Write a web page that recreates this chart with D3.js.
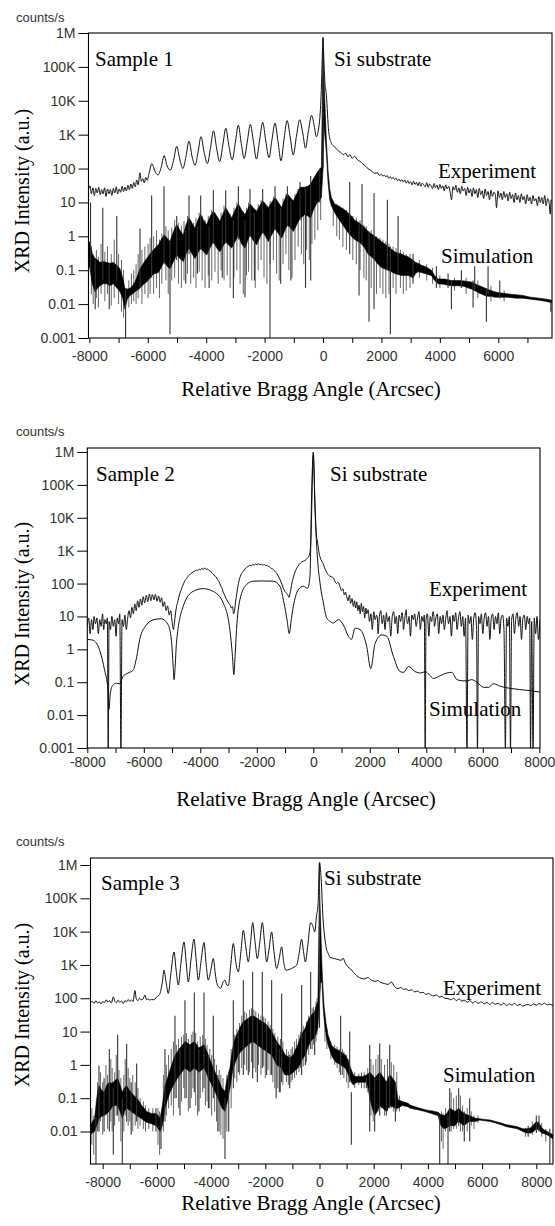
<!DOCTYPE html>
<html><head><meta charset="utf-8">
<script src="https://cdn.jsdelivr.net/npm/d3@7"></script>
<style>body{margin:0;background:#fff}</style></head>
<body><svg id="c" width="555" height="1226"></svg>
<script>
// ---------- DATA ----------
const yTickVals = [1e6,1e5,1e4,1e3,100,10,1,0.1,0.01,0.001];
const yTickLabels = ["1M","100K","10K","1K","100","10","1","0.1","0.01","0.001"];
const xTickVals = [-8000,-7000,-6000,-5000,-4000,-3000,-2000,-1000,0,1000,2000,3000,4000,5000,6000,7000,8000];

// Sample 1 experiment [angle, counts/s]
const exp1 = [[-8030,24],[-7980,31],[-7930,18],[-7880,27],[-7830,16],[-7780,26],[-7730,19],[-7680,28],[-7630,17],[-7580,24],[-7530,18],[-7480,27],[-7430,15],[-7380,25],[-7330,18],[-7280,24],[-7230,16],[-7180,26],[-7130,19],[-7080,29],[-7030,18],[-6980,25],[-6930,20],[-6880,30],[-6830,21],[-6780,28],[-6730,22],[-6680,32],[-6630,24],[-6580,35],[-6530,26],[-6480,39],[-6430,29],[-6380,46],[-6330,33],[-6270,75],[-6220,42],[-6170,50],[-6120,38],[-6070,55],[-6020,45],[-5960,70],
[-5860,140],[-5760,85],[-5650,65],[-5540,110],[-5440,240],[-5340,120],[-5230,90],[-5120,170],[-5010,450],[-4900,180],[-4800,100],[-4690,230],[-4590,650],[-4480,220],[-4380,125],[-4280,300],[-4180,870],[-4070,300],[-3960,140],[-3850,420],[-3750,1300],[-3640,380],[-3540,160],[-3430,500],[-3330,1550],[-3220,450],[-3110,180],[-3000,600],[-2900,1900],[-2800,550],[-2700,200],[-2590,650],[-2490,2000],[-2380,600],[-2280,190],[-2170,700],[-2065,2300],[-1960,650],[-1850,210],[-1750,700],[-1645,2200],[-1540,620],[-1440,170],[-1330,800],[-1230,2600],[-1120,800],[-1020,250],[-910,900],[-800,2750],[-700,1200],[-600,400],[-500,1300],[-390,3700],[-300,1800],[-228,870],[-120,2500],[-60,20000],[-25,200000],[0,740000],[25,200000],[60,40000],[114,15000],[194,1230],[286,560],
[380,450],[460,380],[514,340],[600,300],[700,260],[780,280],[856,220],[913,260],[1000,200],[1080,230],[1199,175],[1280,160],[1350,140],[1420,125],[1541,100],[1620,90],[1700,80],[1780,72],[1860,75],[1930,63],
[2000,68],[2050,60],[2100,64],[2150,57],[2200,62],[2250,52],[2300,58],[2350,50],[2400,55],[2450,47],[2500,52],[2550,44],[2600,49],[2650,42],[2700,47],[2750,40],[2800,46],[2850,37],[2900,44],[2950,36],[3000,41],[3050,33],[3100,42],[3150,34],[3200,39],[3250,31],[3300,40],[3350,30],[3400,37],[3450,33],[3500,29],[3550,38],[3600,28],[3650,35],[3700,31],[3750,26],[3800,36],[3850,27],[3900,33],[3950,24],[4000,34],[4050,26],[4100,31],[4150,22],[4200,33],[4250,25],[4300,30],[4350,21],[4400,12],[4450,29],[4500,23],[4550,32],[4600,20],[4650,27],[4700,18],[4750,30],[4800,22],[4850,26],[4900,16],[4950,28],[5000,19],[5050,25],[5100,15],[5150,27],[5200,18],[5250,24],[5300,14],[5350,26],[5400,17],[5450,22],[5500,13],[5550,25],[5600,16],[5650,21],[5700,12],[5750,23],[5800,15],[5850,20],[5900,17],[5940,7],[5990,22],[6040,14],[6090,19],[6140,12],[6190,21],[6240,14],[6290,18],[6340,11],[6390,20],[6440,13],[6490,17],[6540,10],[6590,19],[6640,12],[6690,16],[6740,10],[6790,18],[6840,12],[6890,15],[6940,9],[6990,17],[7040,11],[7090,14],[7140,9],[7190,16],[7240,11],[7290,13],[7340,8],[7390,15],[7440,10],[7490,14],[7540,9],[7590,16],[7640,8],[7690,13],[7740,10],[7780,4.5],[7810,12],[7840,11]];

// Sample 1 simulation: band [angle, low, high], main fringes and fine fringes [angle, top, bottom]
const sim1Band = [[-8030,0.15,0.6],[-7980,0.11,0.7],[-7900,0.04,0.3],[-7808,0.023,0.22],[-7720,0.03,0.2],[-7637,0.035,0.17],[-7520,0.04,0.18],[-7409,0.04,0.17],[-7300,0.035,0.16],[-7180,0.04,0.17],[-7060,0.03,0.14],[-6952,0.023,0.11],[-6860,0.015,0.06],[-6781,0.007,0.029],[-6700,0.014,0.028],[-6610,0.018,0.029],[-6520,0.02,0.035],[-6438,0.023,0.045],[-6350,0.026,0.07],[-6267,0.03,0.11],[-6150,0.038,0.16],[-6039,0.045,0.22],[-5950,0.055,0.28],[-5868,0.07,0.35],[-5750,0.08,0.45],[-5639,0.085,0.56],[-5540,0.12,0.8],[-5445,0.18,1.1],[-5340,0.13,0.9],[-5240,0.11,0.7],[-5120,0.18,1.4],[-5010,0.28,2.2],[-4900,0.22,1.5],[-4783,0.18,1.1],[-4690,0.3,2.2],[-4589,0.45,3.5],[-4480,0.3,2.4],[-4384,0.22,1.7],[-4290,0.32,3],[-4189,0.45,4.4],[-4090,0.35,3],[-3984,0.28,2.2],[-3870,0.45,3.8],[-3756,0.7,5.5],[-3640,0.45,4],[-3528,0.35,2.8],[-3430,0.5,4.5],[-3333,0.7,7],[-3230,0.55,5],[-3128,0.45,3.5],[-3010,0.7,6],[-2899,1.1,9],[-2790,0.6,6],[-2671,0.45,4.4],[-2590,0.7,6],[-2500,1.1,9],[-2390,0.75,7],[-2272,0.56,5.5],[-2170,0.9,8],[-2066,1.4,11],[-1970,1,9],[-1872,0.7,7],[-1760,1.1,10],[-1644,1.7,14],[-1530,1.2,10],[-1416,0.9,7],[-1320,1.4,12],[-1221,2.2,18],[-1120,1.8,14],[-1016,1.4,11],[-900,2.2,18],[-788,3.5,28],[-700,3.8,28],[-628,4.4,28],[-520,4,30],[-422,3.5,35],[-330,6,50],[-228,9,70],[-140,11,90],[-57,14,110],[0,100,300000],[30,2000,50000],[114,300,700],[171,40,90],[229,12,25],[286,8,14],[400,5,9],[514,3.5,8],[628,2.5,7],[742,1.8,6],[856,1.3,5],[970,1,4],[1085,0.8,3],[1199,0.7,2.6],[1313,0.6,2.2],[1427,0.45,1.8],[1541,0.3,1.4],[1655,0.25,1.2],[1770,0.2,1],[1884,0.15,0.85],[1998,0.12,0.7],[2112,0.11,0.6],[2226,0.1,0.5],[2340,0.09,0.42],[2455,0.08,0.35],[2569,0.075,0.32],[2683,0.07,0.3],[2797,0.07,0.27],[2911,0.07,0.25],[3000,0.065,0.22],[3082,0.06,0.2],[3170,0.08,0.17],[3254,0.09,0.16],[3370,0.085,0.14],[3482,0.08,0.13],[3600,0.075,0.115],[3710,0.07,0.1],[3820,0.05,0.07],[3939,0.04,0.055],[4050,0.039,0.055],[4167,0.038,0.055],[4281,0.036,0.052],[4395,0.035,0.05],[4510,0.035,0.05],[4624,0.035,0.05],[4738,0.034,0.049],[4852,0.033,0.048],[4966,0.03,0.046],[5080,0.028,0.045],[5194,0.025,0.04],[5308,0.022,0.036],[5420,0.02,0.033],[5537,0.018,0.03],[5650,0.017,0.027],[5765,0.017,0.025],[5880,0.016,0.023],[5993,0.016,0.022],[6160,0.016,0.021],[6336,0.016,0.02],[6600,0.015,0.019],[6850,0.015,0.018],[7100,0.014,0.016],[7400,0.013,0.015],[7650,0.012,0.014],[7840,0.011,0.013]];
const sim1Spikes = [[-7960,10,0.1],[-7800,0.2,0.007],[-7541,7,0.05],[-7320,0.15,0.007],[-7062,4,0.05],[-6760,0.03,0.0005],[-6267,1.7,0.03],[-5868,16,0.06],[-5445,30,0.15],[-5240,0.7,0.0013],[-5010,4,0.2],[-4700,1.5,0.04],[-4589,16,0.3],[-4300,2,0.08],[-4189,16,0.4],[-3900,2,0.03],[-3756,23,0.6],[-3450,3,0.06],[-3333,23,0.6],[-3070,3,0.015],[-2899,30,0.8],[-2671,3,0.016],[-2500,25,1],[-2350,5,0.05],[-2066,25,1.2],[-1815,7,0.0005],[-1644,30,1.5],[-1450,7,0.04],[-1221,30,2],[-1100,11,0.05],[-788,40,3],[-600,25,0.03],[-422,60,0.05],[-114,100,10],[0,700000,100],[913,40,0.3],[1233,2.6,0.018],[1336,35,0.6],[1575,1.4,0.003],[1747,19,0.007],[2203,12,0.1],[2306,0.5,0.0013],[2569,4,0.08],[3082,0.3,0.04],[3881,0.13,0.03],[4281,0.08,0.03],[4395,0.05,0.007],[4738,0.1,0.03],[5137,0.05,0.008],[5194,0.13,0.025],[5594,0.03,0.003],[5651,0.13,0.02],[6051,0.05,0.015],[7800,0.013,0.006]];
const sim1Fine = [[-7930,0.5,0.02],[-7870,0.3,0.01],[-7760,0.4,0.015],[-7690,0.25,0.008],[-7600,0.6,0.02],[-7470,0.35,0.012],[-7380,0.5,0.02],[-7250,0.3,0.009],[-7150,0.8,0.015],[-7000,0.3,0.01],[-6900,0.2,0.006],[-6830,0.1,0.004],[-6650,0.05,0.008],[-6560,0.08,0.01],[-6480,0.1,0.012],[-6400,0.15,0.01],[-6330,0.3,0.015],[-6200,0.4,0.01],[-6100,0.5,0.02],[-5990,0.6,0.015],[-5920,0.9,0.02],[-5800,1,0.02],[-5700,1.5,0.03],[-5600,0.8,0.015],[-5520,1.2,0.04],[-5380,2,0.05],[-5300,1.5,0.02],[-5180,1.8,0.05],[-5080,3,0.06],[-4950,2.5,0.04],[-4850,2,0.03],[-4760,2.8,0.05],[-4640,4,0.08],[-4530,3,0.04],[-4430,2.5,0.06],[-4350,3.5,0.03],[-4240,5,0.09],[-4140,4,0.05],[-4040,3,0.03],[-3930,4,0.07],[-3810,6,0.05],[-3700,5,0.09],[-3590,3.5,0.04],[-3490,5,0.1],[-3390,8,0.05],[-3280,6,0.07],[-3180,4.5,0.03],[-3050,7,0.06],[-2950,10,0.1],[-2840,7,0.04],[-2730,5,0.02],[-2620,7,0.07],[-2550,10,0.09],[-2440,8,0.05],[-2320,6,0.03],[-2220,9,0.1],[-2120,12,0.2],[-2020,10,0.06],[-1920,8,0.04],[-1810,11,0.15],[-1700,15,0.2],[-1590,12,0.08],[-1500,9,0.05],[-1370,13,0.15],[-1270,18,0.3],[-1170,15,0.1],[-1060,12,0.06],[-960,18,0.2],[-850,25,0.5],[-740,25,0.3],[-660,28,0.15],[-560,30,0.4],[-470,32,0.2],[-380,40,0.6],[-280,55,0.8],[-180,75,1.5],[-80,100,3],[350,10,2],[470,9,1],[560,8,0.8],[680,7,0.5],[800,6,0.4],[1020,4,0.2],[1140,3.5,0.15],[1270,3,0.1],[1400,2.2,0.06],[1480,2,0.05],[1650,1.5,0.03],[1830,1,0.02],[1950,0.9,0.03],[2050,0.8,0.02],[2150,0.7,0.015],[2260,0.6,0.02],[2400,0.5,0.03],[2500,0.45,0.02],[2650,0.4,0.03],[2750,0.35,0.02],[2850,0.3,0.025],[2980,0.3,0.03],[3300,0.2,0.06],[3550,0.15,0.05],[3750,0.12,0.04],[4000,0.07,0.03],[4500,0.06,0.025],[4900,0.06,0.02],[5300,0.05,0.015],[5750,0.035,0.012],[6200,0.025,0.012]];

// Sample 2
const exp2 = [[-8000,5],[-7950,9],[-7900,3],[-7850,8],[-7800,4],[-7760,10],[-7710,6],[-7660,9],[-7610,3],[-7560,8],[-7510,5],[-7460,12],[-7420,4],[-7380,8],[-7330,6],[-7290,9],[-7260,0.0008],[-7230,7],[-7180,4],[-7130,10],[-7080,5],[-7030,8],[-6980,2.5],[-6940,9],[-6890,6],[-6850,12],[-6810,0.0008],[-6770,8],[-6720,5],[-6670,11],[-6620,4],[-6570,9],[-6520,15],[-6470,9],[-6420,19],[-6370,12],[-6320,24],[-6270,15],[-6220,30],[-6170,19],[-6120,34],[-6070,22],[-6020,40],[-5970,26],[-5910,44],[-5860,28],[-5800,48],[-5750,30],[-5700,46],[-5640,32],[-5590,47],[-5530,29],[-5480,42],[-5420,27],[-5370,37],[-5320,20],[-5270,28],[-5210,15],[-5160,21],[-5100,11],[-5050,15],[-5000,7],[-4950,4],[-4920,6],[-4880,12],[-4840,20],[-4790,30],[-4740,45],[-4690,60],[-4640,80],[-4590,100],[-4540,125],[-4490,140],[-4440,165],[-4390,180],[-4340,200],[-4290,215],[-4240,230],[-4190,240],[-4140,255],[-4090,250],[-4040,275],[-3990,260],[-3940,290],[-3890,270],[-3840,300],[-3790,265],[-3740,280],[-3690,250],[-3640,240],[-3590,210],[-3540,195],[-3490,170],[-3440,160],[-3390,130],[-3340,115],[-3290,90],[-3240,75],[-3190,55],[-3140,45],[-3090,35],[-3040,30],[-2990,25],[-2940,22],[-2900,18],[-2860,20],[-2820,12],[-2790,15],[-2750,28],[-2710,50],[-2670,80],[-2630,120],[-2590,160],[-2540,200],[-2490,230],[-2440,260],[-2390,300],[-2340,320],[-2290,340],[-2240,360],[-2190,350],[-2140,380],[-2090,360],[-2040,390],[-1990,370],[-1940,395],[-1890,375],[-1840,385],[-1790,365],[-1740,380],[-1690,355],[-1640,360],[-1590,330],[-1540,320],[-1490,290],[-1440,280],[-1390,250],[-1340,230],[-1290,200],[-1240,170],[-1190,140],[-1140,110],[-1090,85],[-1040,65],[-990,55],[-940,50],[-900,45],[-860,38],[-830,48],[-790,70],[-750,110],[-700,160],[-650,220],[-600,280],[-550,330],[-500,380],[-450,420],[-400,460],[-350,480],[-300,500],[-250,540],[-200,600],[-150,700],[-110,1000],[-80,3000],[-55,20000],[-30,200000],[0,800000],[25,300000],[50,50000],[80,10000],[110,3000],[143,2000],[200,900],[250,600],[300,480],[350,400],[400,300],[474,220],[520,190],[580,170],[640,160],[710,150],[760,120],[820,100],[870,110],[947,80],[1000,60],[1050,70],[1100,45],[1140,55],[1183,40],[1230,30],[1280,45],[1320,25],[1370,35],[1420,20],[1460,30],[1500,18],[1538,28],[1580,15],[1620,22],[1660,12],[1700,25],[1740,14],[1780,20],[1820,9],[1860,18],[1892,12],[1940,16],[1990,7],[2040,12],[2090,4],[2140,14],[2190,8],[2240,11],[2270,9],[2290,3],[2340,10],[2390,15],[2420,8],[2440,6],[2490,11],[2540,4],[2590,13],[2610,9],[2640,7],[2690,10],[2740,2.5],[2790,9],[2840,14],[2870,10],[2890,6],[2940,10],[2990,3],[3040,11],[3090,7],[3140,13],[3170,9],[3190,4],[3240,9],[3290,16],[3310,8],[3340,6],[3390,10],[3440,2.5],[3490,11],[3540,8],[3590,12],[3640,5],[3690,9],[3740,14],[3760,9],[3790,4],[3840,10],[3890,7],[3930,11],[3961,0.0008],[3990,8],[4040,12],[4090,2.5],[4140,10],[4190,7],[4240,14],[4270,10],[4290,5],[4340,9],[4390,12],[4440,3],[4490,10],[4540,6],[4590,11],[4640,4],[4690,9],[4740,15],[4760,9],[4790,6],[4840,10],[4890,2.5],[4940,11],[4990,7],[5040,13],[5090,4],[5140,9],[5190,14],[5240,5],[5290,10],[5340,2.5],[5390,9],[5440,0.0008],[5480,11],[5530,6],[5580,10],[5630,2],[5680,9],[5730,13],[5780,4],[5810,0.0008],[5850,10],[5900,6],[5950,12],[6000,3],[6050,9],[6100,13],[6150,5],[6200,10],[6250,2],[6300,9],[6350,12],[6400,4],[6450,10],[6500,6],[6550,13],[6600,3],[6650,9],[6700,11],[6750,4],[6800,0.0008],[6840,9],[6890,5],[6940,10],[6980,0.0008],[7020,8],[7070,12],[7120,3],[7170,9],[7220,13],[7270,5],[7320,10],[7370,2],[7420,9],[7470,11],[7520,4],[7570,10],[7620,6],[7660,9],[7690,0.0008],[7730,7],[7780,0.0008],[7820,9],[7870,3],[7920,10],[7970,2],[8025,8]];
const sim2 = [[-8000,2.0],[-7800,1.9],[-7564,0.95],[-7387,0.23],[-7268,0.058],[-7233,0.015],[-7186,0.045],[-7091,0.083],[-6973,0.093],[-6855,0.09],[-6736,0.15],[-6559,0.19],[-6382,0.23],[-6250,0.6],[-6145,2.0],[-5909,5.5],[-5640,8],[-5377,8.5],[-5141,5.6],[-5023,1.9],[-4960,0.3],[-4928,0.12],[-4890,0.3],[-4845,1.5],[-4609,20],[-4254,58],[-3900,70],[-3545,58],[-3190,26],[-2954,4],[-2860,0.6],[-2812,0.17],[-2770,0.6],[-2718,4],[-2599,32],[-2363,93],[-2127,118],[-1800,120],[-1417,118],[-1181,83],[-1039,26],[-930,8],[-850,3],[-780,8],[-708,20],[-531,65],[-354,83],[-200,72],[-117,166],[-58,57000],[0,1000000],[60,18000],[143,680],[237,105],[356,26],[474,9],[600,7],[710,6.3],[888,8],[1065,5.5],[1242,2.5],[1350,2.0],[1479,4.4],[1656,4],[1892,1.2],[2034,0.26],[2188,1.5],[2424,2.75],[2601,2.5],[2838,0.6],[3074,0.21],[3200,0.2],[3370,0.3],[3606,0.21],[3800,0.19],[3961,0.21],[4100,0.17],[4256,0.13],[4500,0.16],[4729,0.19],[4900,0.2],[5084,0.12],[5300,0.11],[5439,0.11],[5600,0.12],[5793,0.1],[6029,0.07],[6200,0.07],[6384,0.09],[6620,0.075],[6975,0.065],[7300,0.06],[7700,0.055],[8025,0.05]];

// Sample 3
const exp3 = [[-8450,75],[-8380,80],[-8320,70],[-8250,85],[-8190,72],[-8130,78],[-8060,68],[-8000,80],[-7940,74],[-7870,90],[-7810,76],[-7750,85],[-7680,72],[-7608,110],[-7550,80],[-7490,74],[-7430,88],[-7370,76],[-7310,82],[-7239,70],[-7180,85],[-7120,78],[-7060,92],[-7000,80],[-6940,88],[-6880,80],[-6809,170],[-6760,95],[-6700,85],[-6640,100],[-6580,90],[-6510,95],[-6440,125],[-6380,90],[-6320,95],[-6260,88],[-6200,92],[-6130,90],[-6070,95],[-6009,110],[-5900,130],[-5800,300],[-5738,700],[-5660,300],[-5579,140],[-5480,600],[-5369,2450],[-5290,700],[-5210,250],[-5110,1200],[-5000,4900],[-4920,1200],[-4841,310],[-4740,1500],[-4631,5900],[-4550,1400],[-4472,350],[-4370,1300],[-4262,4700],[-4180,1000],[-4103,350],[-4010,700],[-3918,1550],[-3840,500],[-3770,250],[-3647,200],[-3560,300],[-3488,350],[-3420,250],[-3365,240],[-3280,900],[-3180,4400],[-3090,1200],[-2996,620],[-2900,2500],[-2811,11000],[-2720,3500],[-2627,1230],[-2540,5000],[-2467,18600],[-2380,5000],[-2294,1550],[-2200,5000],[-2110,18600],[-2030,5000],[-1950,1230],[-1860,3000],[-1766,9800],[-1680,2500],[-1581,780],[-1490,1500],[-1397,3500],[-1320,1200],[-1237,690],[-1130,730],[-1028,780],[-930,880],[-843,980],[-760,2000],[-659,5900],[-590,2500],[-522,1230],[-430,4000],[-326,18600],[-250,15000],[-178,9800],[-110,30000],[-55,62000],[0,1200000],[60,400000],[130,25000],[200,6000],[253,3100],[320,2200],[376,1740],[470,1600],[560,1550],[680,1450],[806,1380],[868,1600],[960,1100],[1052,870],[1150,750],[1250,600],[1330,520],[1421,440],[1530,400],[1650,380],[1780,420],[1913,350],[2050,320],[2150,340],[2250,300],[2405,275],[2530,260],[2651,310],[2760,230],[2897,195],[3000,210],[3100,185],[3200,190],[3300,170],[3400,180],[3512,155],[3620,165],[3720,145],[3820,150],[3930,130],[4030,140],[4127,123],[4220,118],[4320,125],[4420,108],[4520,115],[4620,100],[4742,98],[4850,90],[4950,100],[5050,85],[5150,95],[5250,82],[5357,87],[5450,75],[5550,85],[5650,72],[5750,80],[5850,70],[5972,78],[6080,68],[6180,75],[6280,65],[6380,74],[6480,66],[6587,70],[6700,62],[6800,72],[6900,60],[7000,68],[7100,62],[7200,70],[7300,60],[7400,66],[7500,58],[7583,62],[7700,65],[7800,60],[7900,68],[8000,62],[8100,70],[8200,64],[8300,72],[8400,63],[8500,66],[8616,60]];
const sim3Band = [[-8450,0.008,0.015],[-8380,0.009,0.02],[-8300,0.01,0.024],[-8220,0.015,0.1],[-8137,0.024,0.24],[-8050,0.028,0.18],[-7950,0.03,0.15],[-7850,0.035,0.25],[-7756,0.04,0.3],[-7680,0.05,0.28],[-7608,0.06,0.3],[-7530,0.06,0.35],[-7448,0.06,0.4],[-7360,0.04,0.25],[-7276,0.025,0.15],[-7200,0.04,0.2],[-7116,0.05,0.24],[-7030,0.045,0.18],[-6950,0.04,0.15],[-6850,0.035,0.12],[-6747,0.03,0.1],[-6650,0.027,0.08],[-6560,0.024,0.06],[-6470,0.021,0.05],[-6378,0.019,0.04],[-6290,0.018,0.037],[-6200,0.017,0.035],[-6120,0.016,0.035],[-6034,0.015,0.035],[-5950,0.012,0.03],[-5880,0.01,0.024],[-5800,0.015,0.06],[-5702,0.05,0.24],[-5610,0.09,0.4],[-5517,0.15,0.7],[-5420,0.22,1.2],[-5333,0.3,1.9],[-5240,0.4,2.5],[-5148,0.5,3.2],[-5050,0.65,4],[-4964,0.8,5],[-4870,0.7,4.5],[-4779,0.6,4],[-4700,0.7,4.5],[-4619,0.8,5],[-4530,0.7,4],[-4450,0.6,3.2],[-4350,0.7,3.6],[-4262,0.8,4],[-4180,0.6,2.8],[-4100,0.4,1.9],[-4000,0.28,1.2],[-3918,0.2,0.8],[-3830,0.14,0.55],[-3750,0.1,0.4],[-3670,0.07,0.28],[-3600,0.05,0.2],[-3540,0.045,0.18],[-3488,0.04,0.16],[-3440,0.06,0.28],[-3400,0.08,0.4],[-3350,0.13,0.6],[-3303,0.2,0.8],[-3240,0.45,2],[-3180,0.8,4],[-3090,1.3,7],[-2996,2,10],[-2900,2.5,15],[-2811,3,20],[-2720,3.5,22],[-2627,4,25],[-2550,4.5,28],[-2467,5,30],[-2380,4.5,28],[-2300,4,25],[-2200,3.5,22],[-2110,3,20],[-2030,2.8,18],[-1950,2.5,16],[-1860,2.2,13],[-1766,2,10],[-1670,1.4,7],[-1580,1,5],[-1490,0.9,4],[-1397,0.8,3.2],[-1330,0.6,2.5],[-1274,0.5,2],[-1180,0.5,1.8],[-1100,0.5,1.6],[-1030,0.55,1.8],[-966,0.6,2],[-880,0.7,3],[-800,0.8,4],[-730,1,6],[-670,1.3,8],[-600,1.6,10],[-522,2,13],[-420,3.5,22],[-326,5,30],[-250,6,35],[-178,6.5,40],[-120,9,60],[-60,13,80],[0,80,200000],[40,300,20000],[93,300,800],[130,60,200],[166,25,60],[240,8,18],[314,4,8],[380,2.8,5.5],[437,2,4],[520,1.5,3.3],[600,1.2,3],[700,1.1,2.7],[781,1,2.5],[860,0.9,2.2],[950,0.8,2],[1030,0.6,1.5],[1114,0.4,1],[1175,0.3,0.7],[1250,0.25,0.5],[1320,0.28,0.45],[1400,0.3,0.45],[1500,0.3,0.45],[1600,0.3,0.45],[1680,0.3,0.48],[1729,0.3,0.5],[1800,0.2,0.55],[1852,0.1,0.6],[1950,0.05,0.5],[2036,0.03,0.4],[2130,0.04,0.5],[2221,0.06,0.6],[2340,0.05,0.45],[2467,0.04,0.3],[2530,0.05,0.4],[2590,0.06,0.5],[2700,0.055,0.4],[2800,0.05,0.3],[2897,0.05,0.09],[3050,0.06,0.08],[3150,0.058,0.075],[3266,0.055,0.07],[3350,0.05,0.062],[3450,0.048,0.058],[3540,0.046,0.055],[3635,0.045,0.052],[3770,0.042,0.048],[3900,0.04,0.045],[4010,0.037,0.043],[4127,0.035,0.042],[4250,0.032,0.04],[4373,0.03,0.038],[4480,0.015,0.032],[4600,0.012,0.03],[4700,0.013,0.035],[4804,0.015,0.05],[4900,0.015,0.045],[5000,0.015,0.04],[5070,0.018,0.045],[5136,0.02,0.05],[5240,0.017,0.04],[5342,0.015,0.035],[5440,0.018,0.032],[5542,0.02,0.03],[5650,0.02,0.027],[5750,0.02,0.025],[5911,0.022,0.024],[6100,0.021,0.023],[6300,0.02,0.022],[6500,0.018,0.02],[6700,0.016,0.018],[6900,0.014,0.016],[7100,0.013,0.015],[7300,0.012,0.014],[7500,0.01,0.012],[7650,0.009,0.012],[7800,0.009,0.013],[7900,0.01,0.016],[8000,0.012,0.02],[8100,0.011,0.018],[8200,0.009,0.013],[8300,0.0085,0.011],[8400,0.008,0.01],[8500,0.007,0.009],[8616,0.006,0.008]];
const sim3Spikes = [[-8248,0.027,0.0008],[-8137,0.95,0.01],[-7950,0.4,0.01],[-7756,3,0.01],[-7608,0.2,0.002],[-7448,8,0.03],[-7276,0.1,0.0008],[-7116,4.3,0.02],[-6950,0.3,0.008],[-6747,1.1,0.02],[-6034,0.05,0.01],[-5849,0.03,0.003],[-5702,3,0.02],[-5333,30,0.1],[-5148,3,0.03],[-4964,87,0.1],[-4779,4,0.05],[-4619,150,0.15],[-4450,3,0.04],[-4262,150,0.2],[-4100,2,0.05],[-3918,30,0.1],[-3750,0.5,0.01],[-3488,0.1,0.0015],[-3350,0.6,0.01],[-3180,87,0.2],[-2996,10,0.6],[-2811,350,0.5],[-2627,25,0.5],[-2467,620,0.4],[-2294,25,0.3],[-2110,620,0.8],[-1950,16,0.5],[-1766,350,0.5],[-1600,5,0.1],[-1483,3,0.15],[-1397,140,0.3],[-1100,2,0.2],[-659,250,0.5],[-522,10,1],[-326,620,3],[-178,40,2],[0,1100000,13],[781,30,0.5],[1114,10,0.3],[1175,0.15,0.004],[1729,0.4,0.2],[1852,4,0.01],[2036,0.4,0.01],[2221,4.4,0.03],[2467,0.3,0.03],[2590,4,0.05],[2800,0.3,0.02],[4435,0.03,0.0008],[4742,0.03,0.0008],[4804,0.2,0.01],[5136,0.2,0.015],[5342,0.04,0.005],[5542,0.1,0.005],[7700,0.015,0.007],[8000,0.03,0.009],[8100,0.03,0.01],[8500,0.012,0.0008]];
const sim3Fine = [[-8400,0.05,0.004],[-8330,0.03,0.002],[-8190,0.3,0.01],[-8080,0.6,0.02],[-8000,0.3,0.008],[-7880,1,0.03],[-7820,0.5,0.012],[-7700,1.5,0.02],[-7650,0.8,0.01],[-7560,0.6,0.015],[-7500,2,0.03],[-7400,0.7,0.02],[-7330,0.4,0.005],[-7220,0.5,0.01],[-7170,1.5,0.03],[-7060,0.8,0.015],[-7000,0.4,0.02],[-6890,0.5,0.01],[-6800,0.3,0.015],[-6700,0.2,0.012],[-6620,0.1,0.015],[-6500,0.08,0.012],[-6420,0.06,0.01],[-6300,0.05,0.012],[-6150,0.05,0.01],[-5960,0.05,0.004],[-5900,0.04,0.002],[-5760,0.5,0.01],[-5650,1,0.03],[-5570,2,0.05],[-5470,3,0.06],[-5390,5,0.03],[-5280,4,0.1],[-5200,6,0.05],[-5090,7,0.08],[-5010,8,0.2],[-4910,9,0.1],[-4840,6,0.04],[-4730,8,0.1],[-4670,10,0.2],[-4570,9,0.06],[-4500,5,0.03],[-4400,7,0.1],[-4310,8,0.15],[-4210,6,0.06],[-4150,4,0.08],[-4050,3,0.05],[-3980,2,0.03],[-3870,1.5,0.04],[-3800,1,0.02],[-3700,0.7,0.01],[-3640,0.5,0.008],[-3560,0.4,0.006],[-3420,0.5,0.01],[-3260,3,0.05],[-3130,8,0.4],[-3050,12,0.3],[-2950,18,0.5],[-2870,30,0.8],[-2760,40,1],[-2690,35,0.7],[-2580,45,0.6],[-2510,50,1.2],[-2420,45,0.8],[-2350,40,0.6],[-2250,35,1],[-2160,30,0.5],[-2060,28,0.9],[-2000,25,0.4],[-1900,20,0.7],[-1820,16,0.5],[-1720,12,0.3],[-1650,9,0.2],[-1540,7,0.2],[-1440,6,0.15],[-1350,5,0.25],[-1220,3,0.3],[-1150,2.5,0.25],[-1050,3,0.3],[-1000,3.5,0.35],[-920,5,0.4],[-850,6,0.5],[-760,8,0.6],[-700,10,0.8],[-600,15,0.9],[-480,20,1.2],[-400,30,2],[-270,50,3],[-220,55,4],[-130,80,5],[-90,100,8],[200,25,5],[270,12,3],[420,5,1.5],[560,4,1],[650,3.5,0.8],[730,3,0.6],[850,3,0.5],[900,2.5,0.4],[1000,2,0.3],[1060,1.5,0.2],[1300,0.6,0.2],[1450,0.55,0.25],[1550,0.6,0.2],[1650,0.6,0.2],[1780,0.8,0.15],[1900,1.5,0.03],[1980,1,0.02],[2080,1.5,0.05],[2160,2,0.04],[2280,1.5,0.05],[2400,1,0.03],[2510,1.5,0.04],[2650,1.2,0.05],[2740,1,0.04],[2850,0.6,0.04],[2950,0.12,0.04],[4500,0.04,0.005],[4560,0.035,0.003],[4650,0.05,0.01],[4860,0.15,0.01],[4950,0.1,0.012],[5050,0.12,0.012],[5200,0.12,0.01],[5280,0.06,0.01],[5450,0.05,0.01],[5600,0.04,0.015],[5700,0.03,0.012],[5850,0.03,0.018],[7600,0.013,0.007],[7850,0.02,0.008],[8200,0.018,0.007],[8350,0.012,0.005]];

// ---------- LAYOUT ----------
const panels = [
  {L:88.5,R:552,T:33,B:338,xd:[-8030,7840],yd:[1e-3,1e6],yr:[338,33],nY:10,xpad:8,
   exp:exp1,band:sim1Band,spikes:sim1Spikes,fine:sim1Fine,sim:null,
   counts:[16,22],sample:["Sample 1",95,66],si:[334,66],expL:[438,178],simL:[441,263],xt:[311,396],yt:[22,191]},
  {L:87.3,R:540,T:448,B:748,xd:[-8000,8025],yd:[1e-3,1e6],yr:[748,452],nY:10,xpad:4,
   exp:exp2,band:null,spikes:null,fine:null,sim:sim2,
   counts:[16,436],sample:["Sample 2",96,481],si:[330,481],expL:[429,596],simL:[429,716],xt:[306,806],yt:[22,604]},
  {L:90.5,R:553,T:858,B:1164,xd:[-8450,8616],yd:[1e-2,1e6],yr:[1131.5,865],nY:9,xpad:8,
   exp:exp3,band:sim3Band,spikes:sim3Spikes,fine:sim3Fine,sim:null,
   counts:[16,846],sample:["Sample 3",101,890],si:[324,885],expL:[443,995],simL:[443,1082],xt:[311,1210],yt:[22,1005]}
];

const svg = d3.select('#c');
const SANS = "'Liberation Sans', Arial, sans-serif";
const SERIF = "'Liberation Serif', 'Times New Roman', serif";

panels.forEach((p, i) => {
  const x = d3.scaleLinear().domain(p.xd).range([p.L, p.R]);
  const y = d3.scaleLog().domain(p.yd).range(p.yr);
  const g = svg.append('g');
  const cid = 'clip' + i;
  svg.append('clipPath').attr('id', cid).append('rect')
    .attr('x', p.L).attr('y', p.T).attr('width', p.R - p.L).attr('height', p.B - p.T);
  const plot = g.append('g').attr('clip-path', `url(#${cid})`);

  const vlines = (data, color, w) => plot.append('g').selectAll('line').data(data).join('line')
      .attr('x1', d => x(d[0])).attr('x2', d => x(d[0]))
      .attr('y1', d => y(d[1])).attr('y2', d => y(d[2]))
      .attr('stroke', color).attr('stroke-width', w);

  if (p.fine) vlines(p.fine, '#555', 0.9);
  if (p.band) {
    plot.append('path').datum(p.band)
      .attr('d', d3.area().x(d => x(d[0])).y0(d => y(d[1])).y1(d => y(d[2])).curve(d3.curveLinear))
      .attr('fill', '#000').attr('stroke', '#000').attr('stroke-width', 0.6);
  }
  if (p.spikes) vlines(p.spikes, '#333', 1.1);
  if (p.sim) {
    plot.append('path').datum(p.sim)
      .attr('d', d3.line().x(d => x(d[0])).y(d => y(d[1])).curve(d3.curveMonotoneX))
      .attr('fill', 'none').attr('stroke', '#111').attr('stroke-width', 1);
  }
  plot.append('path').datum(p.exp)
    .attr('d', d3.line().x(d => x(d[0])).y(d => y(d[1])).curve(d3.curveMonotoneX))
    .attr('fill', 'none').attr('stroke', '#111').attr('stroke-width', 1);

  // frame
  g.append('rect').attr('x', p.L).attr('y', p.T).attr('width', p.R - p.L).attr('height', p.B - p.T)
    .attr('fill', 'none').attr('stroke', '#000').attr('stroke-width', 1.1);

  // axes
  const xtv = xTickVals.filter(v => v >= p.xd[0] && v <= p.xd[1]);
  const xa = g.append('g').attr('transform', `translate(0,${p.B})`)
    .call(d3.axisBottom(x).tickValues(xtv).tickFormat(d => d % 2000 === 0 ? String(d) : '')
      .tickSize(5).tickPadding(p.xpad));
  xa.select('.domain').remove();
  const ya = g.append('g').attr('transform', `translate(${p.L},0)`)
    .call(d3.axisLeft(y).tickValues(yTickVals.slice(0, p.nY))
      .tickFormat((d, k) => yTickLabels[k]).tickSize(10).tickPadding(3));
  ya.select('.domain').remove();
  [xa, ya].forEach(a => {
    a.attr('font-family', SANS).attr('font-size', 14);
    a.selectAll('text').attr('fill', '#333');
    a.selectAll('line').attr('stroke', '#000');
  });

  // texts
  g.append('text').attr('x', p.counts[0]).attr('y', p.counts[1]).text('counts/s')
    .attr('font-family', SANS).attr('font-size', 13).attr('fill', '#333');
  const serif = (t, xx, yy) => g.append('text').attr('x', xx).attr('y', yy).text(t)
    .attr('font-family', SERIF).attr('font-size', 21).attr('fill', '#000');
  serif(p.sample[0], p.sample[1], p.sample[2]);
  serif('Si substrate', p.si[0], p.si[1]);
  serif('Experiment', p.expL[0], p.expL[1]);
  serif('Simulation', p.simL[0], p.simL[1]);
  g.append('text').attr('x', p.xt[0]).attr('y', p.xt[1]).attr('text-anchor', 'middle')
    .text('Relative Bragg Angle (Arcsec)').attr('font-family', SERIF).attr('font-size', 21).attr('fill', '#000');
  g.append('text').attr('transform', `translate(${p.yt[0]},${p.yt[1]}) rotate(-90)`)
    .attr('text-anchor', 'middle').attr('dy', '0.35em')
    .text('XRD Intensity (a.u.)').attr('font-family', SERIF).attr('font-size', 20).attr('fill', '#000');
});
</script>
</body></html>
